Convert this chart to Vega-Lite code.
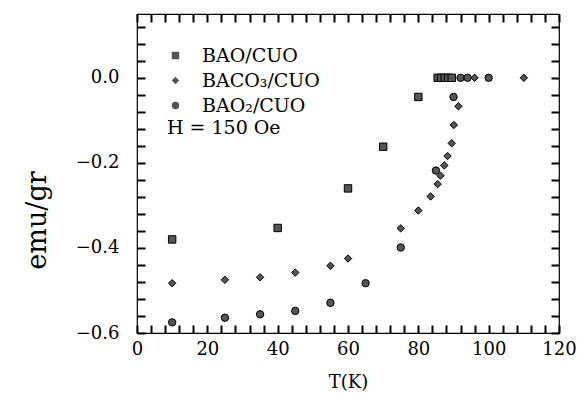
{
  "$schema": "https://vega.github.io/schema/vega-lite/v6.json",
  "width": 422,
  "height": 319,
  "autosize": {"type": "none"},
  "padding": {"left": 137, "top": 14, "right": 23, "bottom": 62},
  "config": {
    "view": {"stroke": "black", "strokeWidth": 1.2},
    "axis": {"grid": false, "domain": false, "tickColor": "#000000", "tickOpacity": 1}
  },
  "data": {"values": [
      {"T": 10, "m": -0.38, "s": "BAO/CUO"},
      {"T": 40, "m": -0.353, "s": "BAO/CUO"},
      {"T": 60, "m": -0.26, "s": "BAO/CUO"},
      {"T": 70, "m": -0.162, "s": "BAO/CUO"},
      {"T": 80, "m": -0.045, "s": "BAO/CUO"},
      {"T": 85.5, "m": 0, "s": "BAO/CUO"},
      {"T": 86.5, "m": 0, "s": "BAO/CUO"},
      {"T": 87.5, "m": 0, "s": "BAO/CUO"},
      {"T": 88.5, "m": 0, "s": "BAO/CUO"},
      {"T": 89.5, "m": 0, "s": "BAO/CUO"},
      {"T": 10, "m": -0.483, "s": "BACO₃/CUO"},
      {"T": 25, "m": -0.475, "s": "BACO₃/CUO"},
      {"T": 35, "m": -0.469, "s": "BACO₃/CUO"},
      {"T": 45, "m": -0.458, "s": "BACO₃/CUO"},
      {"T": 55, "m": -0.442, "s": "BACO₃/CUO"},
      {"T": 60, "m": -0.425, "s": "BACO₃/CUO"},
      {"T": 75, "m": -0.354, "s": "BACO₃/CUO"},
      {"T": 80, "m": -0.312, "s": "BACO₃/CUO"},
      {"T": 83.5, "m": -0.279, "s": "BACO₃/CUO"},
      {"T": 85.5, "m": -0.25, "s": "BACO₃/CUO"},
      {"T": 86.3, "m": -0.23, "s": "BACO₃/CUO"},
      {"T": 87.4, "m": -0.206, "s": "BACO₃/CUO"},
      {"T": 88.3, "m": -0.184, "s": "BACO₃/CUO"},
      {"T": 89.5, "m": -0.154, "s": "BACO₃/CUO"},
      {"T": 90.1, "m": -0.111, "s": "BACO₃/CUO"},
      {"T": 91.4, "m": -0.067, "s": "BACO₃/CUO"},
      {"T": 96, "m": 0, "s": "BACO₃/CUO"},
      {"T": 110, "m": 0, "s": "BACO₃/CUO"},
      {"T": 10, "m": -0.575, "s": "BAO₂/CUO"},
      {"T": 25, "m": -0.564, "s": "BAO₂/CUO"},
      {"T": 35, "m": -0.556, "s": "BAO₂/CUO"},
      {"T": 45, "m": -0.548, "s": "BAO₂/CUO"},
      {"T": 55, "m": -0.529, "s": "BAO₂/CUO"},
      {"T": 65, "m": -0.483, "s": "BAO₂/CUO"},
      {"T": 75, "m": -0.399, "s": "BAO₂/CUO"},
      {"T": 85, "m": -0.218, "s": "BAO₂/CUO"},
      {"T": 90, "m": -0.045, "s": "BAO₂/CUO"},
      {"T": 92, "m": 0, "s": "BAO₂/CUO"},
      {"T": 94, "m": 0, "s": "BAO₂/CUO"},
      {"T": 100, "m": 0, "s": "BAO₂/CUO"},
      {"T": 8.5, "m": -0.118, "s": "note", "label": "H = 150 Oe"}
  ]},
  "resolve": {"axis": {"x": "independent", "y": "independent"}},
  "layer": [
    {
      "transform": [{"filter": "datum.s !== 'note'"}],
      "mark": {"type": "point", "filled": true, "size": 55, "strokeWidth": 1, "stroke": "black", "opacity": 1},
      "encoding": {
        "x": {"field": "T", "type": "quantitative", "scale": {"domain": [0, 120], "nice": false, "zero": false},
          "axis": {"title": "T(K)", "values": [0, 4, 8, 12, 16, 20, 24, 28, 32, 36, 40, 44, 48, 52, 56, 60, 64, 68, 72, 76, 80, 84, 88, 92, 96, 100, 104, 108, 112, 116, 120], "labelExpr": "datum.value % 20 === 0 ? datum.label : ''", "tickColor": "#000000", "tickOpacity": 1, "tickSize": -8, "tickWidth": 2, "labelPadding": 15, "labelFont": "DejaVu Serif", "labelColor": "black", "labelFontSize": 18, "titleFont": "DejaVu Serif", "titleColor": "black", "titleFontWeight": "normal", "titleFontSize": 18, "titleY": 49, "titleBaseline": "middle", "labelFlush": false}},
        "y": {"field": "m", "type": "quantitative", "scale": {"domain": [-0.6, 0.15], "nice": false, "zero": false},
          "axis": {"title": "emu/gr", "values": [-0.6, -0.56, -0.52, -0.48, -0.44, -0.4, -0.36, -0.32, -0.28, -0.24, -0.2, -0.16, -0.12, -0.08, -0.04, 0, 0.04, 0.08, 0.12], "labelExpr": "abs(datum.value * 5 - round(datum.value * 5)) < 0.001 ? format(datum.value, '.1f') : ''", "tickColor": "#000000", "tickOpacity": 1, "tickSize": -8, "tickWidth": 2, "labelPadding": 26, "labelFont": "DejaVu Serif", "labelColor": "black", "labelFontSize": 18, "titleFont": "DejaVu Serif", "titleColor": "black", "titleFontWeight": "normal", "titleFontSize": 27, "titleX": -100, "titleY": 206, "titleBaseline": "middle", "titleAngle": -90}},
        "shape": {"field": "s", "type": "nominal", "sort": null,
          "scale": {"domain": ["BAO/CUO", "BACO₃/CUO", "BAO₂/CUO"], "range": ["square", "diamond", "circle"]},
          "legend": {"title": null, "orient": "none", "legendX": 29, "legendY": 32, "labelFontSize": 19, "labelFont": "DejaVu Serif", "labelColor": "black", "labelOffset": 17, "rowPadding": 5, "symbolSize": 55, "symbolFillColor": "#555", "symbolStrokeColor": "black", "symbolStrokeWidth": 1}},
        "color": {"value": "#555"}
      }
    },
    {
      "transform": [{"filter": "datum.s === 'note'"}],
      "mark": {"type": "text", "align": "left", "baseline": "middle", "fontSize": 19, "font": "DejaVu Serif", "color": "black"},
      "encoding": {
        "x": {"field": "T", "type": "quantitative", "axis": {"orient": "top", "title": null, "labels": false, "values": [0, 4, 8, 12, 16, 20, 24, 28, 32, 36, 40, 44, 48, 52, 56, 60, 64, 68, 72, 76, 80, 84, 88, 92, 96, 100, 104, 108, 112, 116, 120], "tickColor": "#000000", "tickOpacity": 1, "tickSize": -8, "tickWidth": 2}},
        "y": {"field": "m", "type": "quantitative", "axis": {"orient": "right", "title": null, "labels": false, "values": [-0.6, -0.56, -0.52, -0.48, -0.44, -0.4, -0.36, -0.32, -0.28, -0.24, -0.2, -0.16, -0.12, -0.08, -0.04, 0, 0.04, 0.08, 0.12], "tickColor": "#000000", "tickOpacity": 1, "tickSize": -8, "tickWidth": 2}},
        "text": {"field": "label"}
      }
    }
  ]
}
